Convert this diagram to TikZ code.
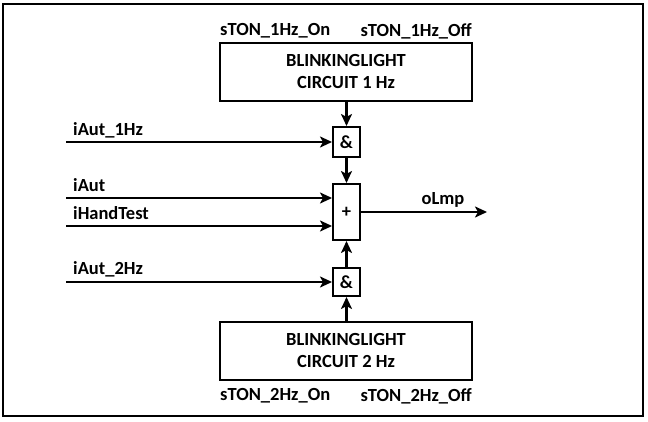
\documentclass[tikz,border=0pt]{standalone}
\usepackage{fontspec}
\setmainfont{Carlito}
\usetikzlibrary{arrows.meta}
\begin{document}
\begin{tikzpicture}[x=1pt,y=-1pt,
  font=\fontsize{18.5}{22}\selectfont\bfseries,
  blk/.style={draw,line width=2pt,minimum width=252pt,minimum height=58pt,align=center,inner sep=0pt},
  gate/.style={draw,line width=2pt,minimum width=27pt,inner sep=0pt},
  sig/.style={line width=2.6pt,-{Stealth[length=12pt,width=11pt,inset=3pt]}},
  lbl/.style={inner sep=0pt}]
\useasboundingbox (0,0) rectangle (648,422);
\draw[line width=2pt] (3,4) rectangle (643,416);
% blocks
\node[blk] (top) at (346,72) {BLINKINGLIGHT\\CIRCUIT 1 Hz};
\node[blk] (bot) at (346,350.5) {BLINKINGLIGHT\\CIRCUIT 2 Hz};
\node[gate,minimum height=30pt] (and1) at (346.5,142) {\&};
\node[gate,minimum height=56pt] (plus) at (346.5,212) {+};
\node[gate,minimum height=28pt] (and2) at (346.5,282) {\&};
% block labels
\node[lbl,anchor=west] (t1) at (220,31) {sTON\_1Hz\_On};
\node[lbl,anchor=east] (t2) at (472,31) {sTON\_1Hz\_Off};
\node[lbl,anchor=west] (b1) at (220,396) {sTON\_2Hz\_On};
\node[lbl,anchor=east] (b2) at (472,396) {sTON\_2Hz\_Off};
% input start points
\coordinate (i1) at (66,142);
\coordinate (i2) at (66,198);
\coordinate (i3) at (66,226);
\coordinate (i4) at (66,282);
\coordinate (out) at (487,212);
% input labels
\node[lbl,anchor=west] (l1) at (73,130) {iAut\_1Hz};
\node[lbl,anchor=west] (l2) at (73,185) {iAut};
\node[lbl,anchor=west] (l3) at (73,213) {iHandTest};
\node[lbl,anchor=west] (l4) at (73,269) {iAut\_2Hz};
\node[lbl] (lo) at (443,200) {oLmp};
% connectors
\draw[sig] (i1) -- (and1.west);
\draw[sig] (i2) -- (i2 -| plus.west);
\draw[sig] (i3) -- (i3 -| plus.west);
\draw[sig] (i4) -- (and2.west);
\draw[sig] (plus.east) -- (out);
\draw[sig] (top.south -| and1.north) -- (and1.north);
\draw[sig] (and1.south) -- (plus.north);
\draw[sig] (and2.north) -- (plus.south);
\draw[sig] (bot.north -| and2.south) -- (and2.south);
\end{tikzpicture}
\end{document}
